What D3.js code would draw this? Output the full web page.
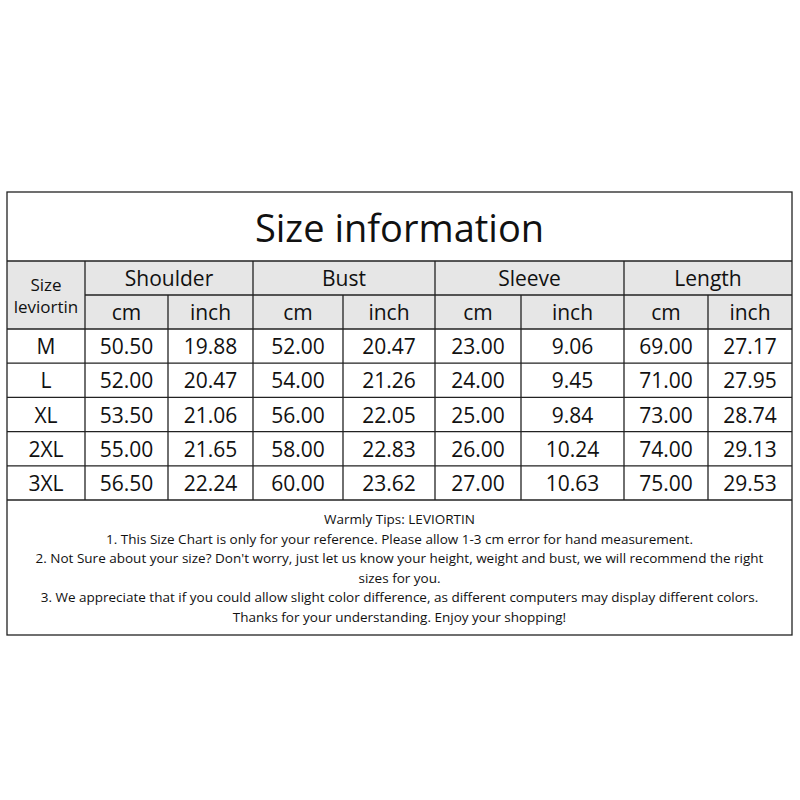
<!DOCTYPE html>
<html>
<head>
<meta charset="utf-8">
<script src="https://cdn.jsdelivr.net/npm/d3@7"></script>
<style>body{margin:0;background:#fff}</style>
</head>
<body>
<div id="chart"></div>
<script>
const title = "Size information";
const sizes = ["M", "L", "XL", "2XL", "3XL"];
const groups = ["Shoulder", "Bust", "Sleeve", "Length"];
const units = ["cm", "inch"];
const values = [
  ["50.50", "19.88", "52.00", "20.47", "23.00", "9.06", "69.00", "27.17"],
  ["52.00", "20.47", "54.00", "21.26", "24.00", "9.45", "71.00", "27.95"],
  ["53.50", "21.06", "56.00", "22.05", "25.00", "9.84", "73.00", "28.74"],
  ["55.00", "21.65", "58.00", "22.83", "26.00", "10.24", "74.00", "29.13"],
  ["56.50", "22.24", "60.00", "23.62", "27.00", "10.63", "75.00", "29.53"]
];
const tips = [
  "Warmly Tips: LEVIORTIN",
  "1. This Size Chart is only for your reference. Please allow 1-3 cm error for hand measurement.",
  "2. Not Sure about your size? Don't worry, just let us know your height, weight and bust, we will recommend the right",
  "sizes for you.",
  "3. We appreciate that if you could allow slight color difference, as different computers may display different colors.",
  "Thanks for your understanding. Enjoy your shopping!"
];

const width = 800, height = 800;
const font = "'Open Sans', 'Noto Sans', sans-serif";
const boxLeft = 7, boxRight = 792, boxTop = 192, boxBottom = 635;
const titleBottom = 261, head1 = 295, head2 = 329, rowsBottom = 500;
// column edges
const colX = [7, 85, 168, 253, 343, 435, 521, 624, 708, 792];

const svg = d3.select("#chart").append("svg")
  .attr("width", width).attr("height", height);

const y = d3.scaleBand().domain(sizes).range([head2, rowsBottom]);

// grey header band
svg.append("rect").attr("x", boxLeft).attr("y", titleBottom)
  .attr("width", boxRight - boxLeft).attr("height", head2 - titleBottom)
  .attr("fill", "#e6e6e6");

const line = (x1, y1, x2, y2) => svg.append("line")
  .attr("x1", x1).attr("y1", y1).attr("x2", x2).attr("y2", y2)
  .attr("stroke", "#222").attr("stroke-width", 1.3);

// outer box
svg.append("rect").attr("x", boxLeft).attr("y", boxTop)
  .attr("width", boxRight - boxLeft).attr("height", boxBottom - boxTop)
  .attr("fill", "none").attr("stroke", "#222").attr("stroke-width", 1.3);

line(boxLeft, titleBottom, boxRight, titleBottom);
line(colX[1], head1, boxRight, head1);
line(boxLeft, head2, boxRight, head2);
sizes.forEach(s => line(boxLeft, y(s) + y.bandwidth(), boxRight, y(s) + y.bandwidth()));
colX.slice(1, -1).forEach((x, i) => {
  const y0 = (i % 2 === 0) ? titleBottom : head1;
  line(x, y0, x, rowsBottom);
});

const text = (x, yy, t, size) => svg.append("text")
  .attr("x", x).attr("y", yy).attr("text-anchor", "middle")
  .attr("dominant-baseline", "central")
  .style("font-family", font).style("font-size", size + "px")
  .attr("fill", "#111").text(t);

text((boxLeft + boxRight) / 2, 227, title, 38);
text((colX[0] + colX[1]) / 2, 284, "Size", 17);
text((colX[0] + colX[1]) / 2, 306, "leviortin", 17);
groups.forEach((g, i) => text((colX[1 + 2 * i] + colX[3 + 2 * i]) / 2, 278, g, 21));
groups.forEach((g, i) => units.forEach((u, j) =>
  text((colX[1 + 2 * i + j] + colX[2 + 2 * i + j]) / 2, 312, u, 21)));

sizes.forEach((s, r) => {
  const cy = y(s) + y.bandwidth() / 2;
  text((colX[0] + colX[1]) / 2, cy, s, 21);
  values[r].forEach((v, c) => text((colX[c + 1] + colX[c + 2]) / 2, cy, v, 21));
});

tips.forEach((t, i) => text((boxLeft + boxRight) / 2, 519 + i * 19.5, t, 13.5));
</script>
</body>
</html>
